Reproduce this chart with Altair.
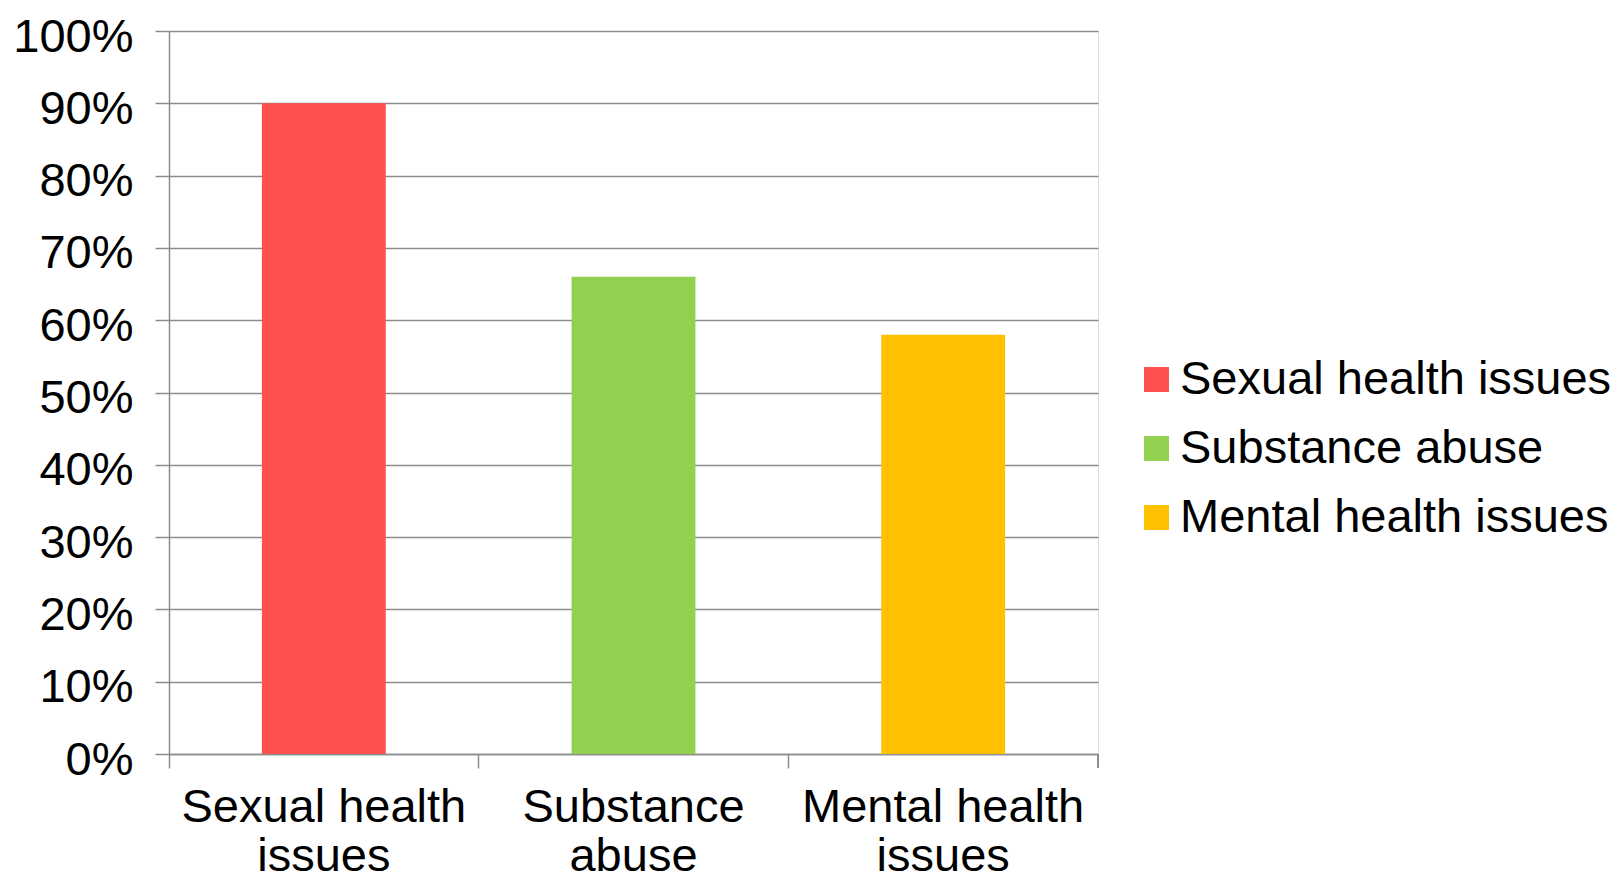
import altair as alt
import pandas as pd

categories = ["Sexual health issues", "Substance abuse", "Mental health issues"]
values = [0.90, 0.66, 0.58]
label_line1 = ["Sexual health", "Substance", "Mental health"]
label_line2 = ["issues", "abuse", "issues"]
colors = ["#FF5050", "#92D050", "#FFC000"]
y_ticks = [i / 10 for i in range(11)]

df = pd.DataFrame({"category": categories, "value": values})

label_expr = " : ".join(
    f"datum.value == '{c}' ? ['{a}', '{b}']" for c, a, b in zip(categories, label_line1, label_line2)
) + " : datum.label"

FONT = "Liberation Sans"
GRAY = "#8c8c8c"
W, H = 929, 723

bars = alt.Chart(df).mark_bar(width=alt.RelativeBandSize(0.4)).encode(
    x=alt.X("category:N", sort=categories, title=None,
            scale=alt.Scale(paddingInner=0, paddingOuter=0),
            axis=alt.Axis(labelExpr=label_expr, labelAngle=0, labelFontSize=47,
                          labelLineHeight=49, labelPadding=16, labelColor="black",
                          labelFont=FONT, bandPosition=0, tickSize=14, tickColor=GRAY,
                          tickWidth=1.5, domainColor=GRAY, domainWidth=1.5, grid=False,
                          labelLimit=1000)),
    y=alt.Y("value:Q", title=None, scale=alt.Scale(domain=[0, 1], nice=False),
            axis=alt.Axis(values=y_ticks, format=".0%", labelFontSize=47, labelFont=FONT,
                          labelColor="black", labelPadding=22, labelOffset=6,
                          tickSize=14, tickColor=GRAY,
                          tickWidth=1.5, domainColor=GRAY, domainWidth=1.5, grid=True,
                          gridColor=GRAY, gridWidth=1.5, labelLimit=1000)),
    color=alt.Color("category:N", sort=categories, title=None,
                    scale=alt.Scale(domain=categories, range=colors),
                    legend=alt.Legend(orient="none", legendX=964, legendY=325,
                                      symbolType="square", symbolSize=625,
                                      symbolStrokeWidth=0, labelFontSize=47,
                                      labelFont=FONT, labelColor="black",
                                      labelOffset=0, rowPadding=21, padding=0,
                                      labelLimit=1000)),
)

right_tick = alt.Chart(df).mark_rule(color=GRAY, strokeWidth=1.5).encode(
    x=alt.value(W), y=alt.value(H), y2=alt.value(H + 14)
)

chart = alt.layer(bars, right_tick).properties(
    width=W, height=H,
    autosize=alt.AutoSizeParams(type="none"),
    padding={"left": 161, "top": 23, "right": 515, "bottom": 128},
).configure_view(stroke=None).configure(font=FONT)

chart.save("out.html", embed_options={"renderer": "svg", "actions": False})
